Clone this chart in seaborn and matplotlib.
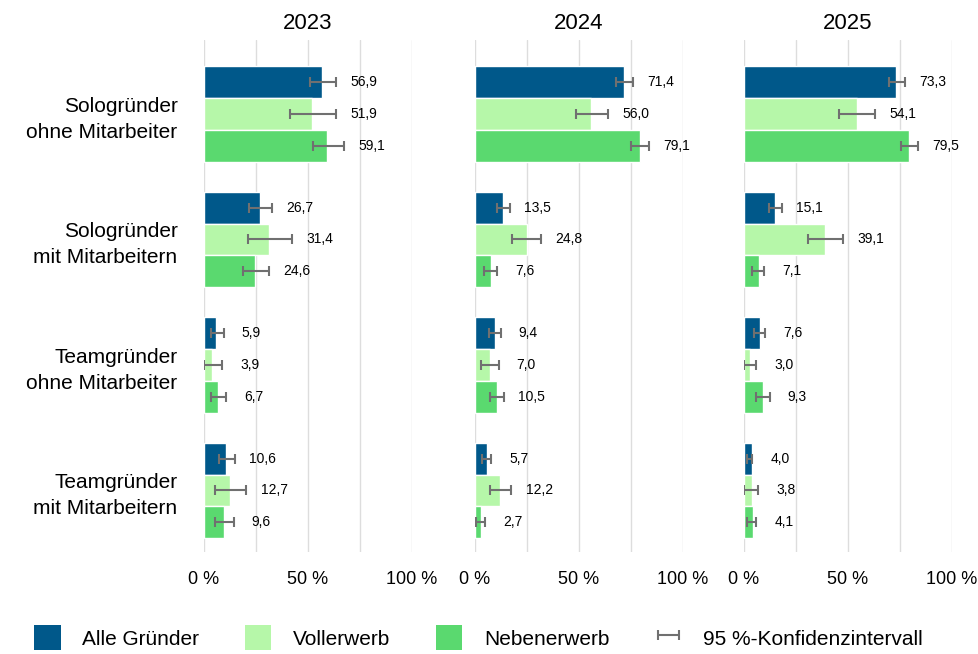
import numpy as np
import pandas as pd
import seaborn as sns
import matplotlib.pyplot as plt
from matplotlib.patches import Patch
from matplotlib.ticker import MultipleLocator

# Daten (Anteile in %)
years = ["2023", "2024", "2025"]
categories = ["Sologründer\nohne Mitarbeiter", "Sologründer\nmit Mitarbeitern",
              "Teamgründer\nohne Mitarbeiter", "Teamgründer\nmit Mitarbeitern"]
groups = ["Alle Gründer", "Vollerwerb", "Nebenerwerb"]
colors = ["#00588A", "#B6F7A9", "#5AD96F"]

# Werte je Jahr: Zeilen = Kategorie, Spalten = Gruppe
values = {
    "2023": [[56.9, 51.9, 59.1], [26.7, 31.4, 24.6], [5.9, 3.9, 6.7], [10.6, 12.7, 9.6]],
    "2024": [[71.4, 56.0, 79.1], [13.5, 24.8, 7.6], [9.4, 7.0, 10.5], [5.7, 12.2, 2.7]],
    "2025": [[73.3, 54.1, 79.5], [15.1, 39.1, 7.1], [7.6, 3.0, 9.3], [4.0, 3.8, 4.1]],
}
# 95 %-Konfidenzintervall: untere / obere Grenze
ci_low = {
    "2023": [[51.0, 41.3, 52.3], [21.5, 21.2, 18.6], [3.2, 0.2, 3.2], [7.0, 5.3, 5.3]],
    "2024": [[67.6, 48.4, 74.9], [10.4, 17.8, 4.5], [6.6, 2.8, 7.0], [3.2, 7.0, 0.5]],
    "2025": [[69.6, 45.5, 75.4], [12.0, 30.6, 4.0], [4.9, 0.0, 6.0], [1.6, 0.0, 1.6]],
}
ci_high = {
    "2023": [[63.6, 63.6, 67.1], [32.7, 42.2, 31.4], [9.4, 8.6, 10.8], [14.7, 20.4, 14.2]],
    "2024": [[75.9, 64.1, 83.8], [16.8, 31.9, 10.7], [12.3, 11.3, 13.9], [7.9, 17.5, 4.9]],
    "2025": [[77.3, 62.8, 83.5], [18.1, 47.6, 9.7], [10.0, 5.8, 12.3], [3.7, 6.9, 6.0]],
}

sns.set_style("white")
plt.rcParams["font.family"] = ["Liberation Sans", "DejaVu Sans"]
plt.rcParams["text.color"] = "black"
plt.rcParams["xtick.color"] = "black"
plt.rcParams["ytick.color"] = "black"

fig = plt.figure(figsize=(9.79, 6.54), dpi=100)
lefts = [204 / 979, 475 / 979, 744 / 979]
err_color = "#707070"
err_handle = None

for i, (year, left) in enumerate(zip(years, lefts)):
    ax = fig.add_axes([left, 0.156, 208 / 979, 0.783])
    rows = []
    for c, cat in enumerate(categories):
        for g, grp in enumerate(groups):
            rows.append({"cat": cat, "grp": grp, "val": values[year][c][g],
                         "lo": ci_low[year][c][g], "hi": ci_high[year][c][g]})
    df = pd.DataFrame(rows)

    sns.barplot(data=df, y="cat", x="val", hue="grp", hue_order=groups,
                palette=colors, orient="h", width=0.76, saturation=1,
                errorbar=None, legend=False, ax=ax)
    bar_conts = list(ax.containers)

    # Fehlerbalken (lo..hi) + Beschriftung an den Balkenpositionen
    for g, cont in enumerate(bar_conts):
        sub = df[df["grp"] == groups[g]].reset_index(drop=True)
        for k, bar in enumerate(cont.patches):
            yc = bar.get_y() + bar.get_height() / 2
            v, lo, hi = sub.loc[k, "val"], sub.loc[k, "lo"], sub.loc[k, "hi"]
            eb = ax.errorbar((lo + hi) / 2, yc, xerr=(hi - lo) / 2, fmt="none",
                             ecolor=err_color, elinewidth=1.5, capsize=3.5,
                             capthick=1.5, zorder=5)
            if err_handle is None:
                err_handle = eb
            ax.annotate(f"{v:.1f}".replace(".", ","), (max(hi, v), yc),
                        xytext=(20, 0), textcoords="offset points",
                        ha="center", va="center", fontsize=10, color="black")

    ax.set_xlim(0, 100)
    ax.set_ylim(3.49, -0.59)
    ax.xaxis.set_minor_locator(MultipleLocator(25))
    ax.set_xticks([0, 50, 100])
    ax.set_xticklabels(["0 %", "50 %", "100 %"], fontsize=13)
    ax.grid(axis="x", which="both", color="#DDDDDD", linewidth=1)
    ax.set_axisbelow(True)
    ax.tick_params(axis="both", which="both", length=0)
    ax.tick_params(axis="x", pad=14)
    ax.tick_params(axis="y", pad=19)
    ax.set_xlabel("")
    ax.set_ylabel("")
    if i == 0:
        ax.set_yticks(range(len(categories)))
        ax.set_yticklabels(categories, fontsize=15, linespacing=1.45)
    else:
        ax.set_yticklabels([])
    for s in ax.spines.values():
        s.set_visible(False)
    ax.set_title(year, fontsize=16, pad=8, color="black")

handles = [Patch(facecolor=c, edgecolor="none") for c in colors] + [err_handle]
labels = groups + ["95 %-Konfidenzintervall"]
fig.legend(handles, labels, loc="center", bbox_to_anchor=(0.489, 0.025), ncol=4,
           frameon=False, fontsize=15, handlelength=1.25, handleheight=1.45,
           handletextpad=1.05, columnspacing=2.2)

fig.savefig("out.png", dpi=100)
